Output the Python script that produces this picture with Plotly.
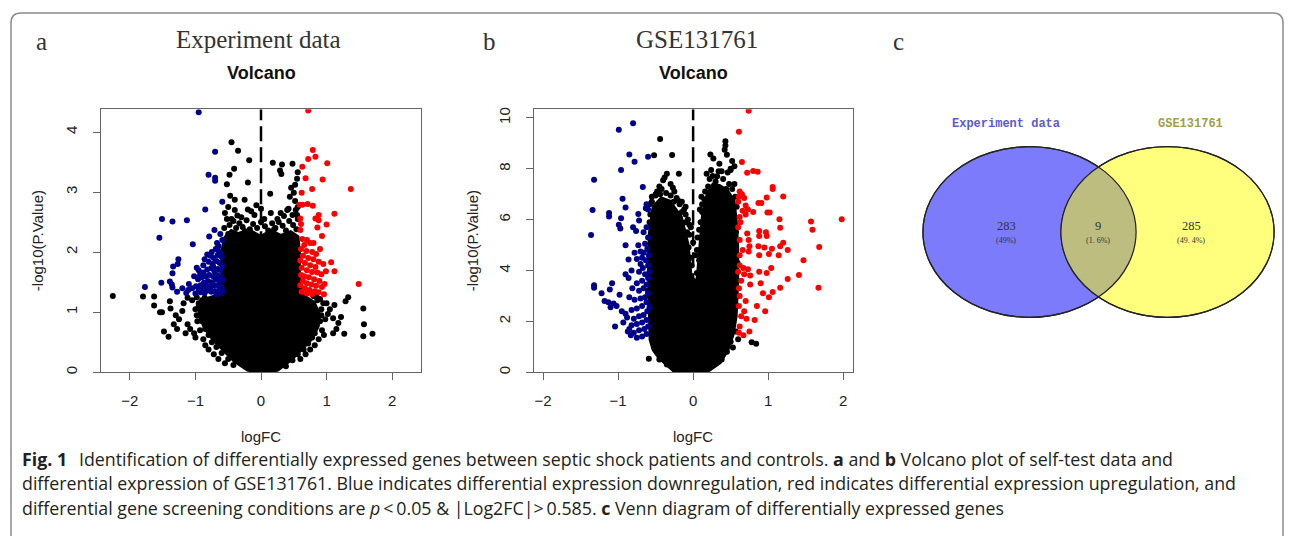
import numpy as np
import plotly.graph_objects as go

W, H = 1293, 536

# ---------------- data: panel a (Experiment data) ----------------
blob_a_x = [0.05, 0.25, 0.45, 0.62, 0.75, 0.85, 0.88, 0.80, 0.62, 0.57, 0.57, 0.55, 0.45, 0.30, 0.15, 0.0,
            -0.15, -0.30, -0.45, -0.55, -0.58, -0.58, -0.62, -0.80, -0.92, -0.93, -0.85, -0.72, -0.55, -0.40, -0.20, 0.05]
blob_a_y = [0.0, 0.05, 0.22, 0.40, 0.55, 0.75, 0.95, 1.15, 1.28, 1.6, 2.0, 2.25, 2.32, 2.26, 2.34, 2.24,
            2.33, 2.27, 2.34, 2.22, 2.0, 1.6, 1.28, 1.22, 1.12, 0.95, 0.75, 0.55, 0.35, 0.2, 0.05, 0.0]

black_a_x = [-2.26, -1.80, -1.63, -1.63, -1.54, -1.51, -1.39, -1.38, -1.48, -1.41, -1.0, -1.30, -1.25, -1.20, -1.12, -1.08,
             -1.18, -1.05, -1.12, -0.98, -0.95, -0.92, -0.97, -1.02, -0.93, -0.88, -0.85, -0.80, -0.72, -0.65, -0.55,
             -1.33, -1.28, -1.15, -0.90, -0.86,
             -0.45, -0.35, -0.18, -0.41, -0.48, -0.52, -0.20, -0.47, -0.40, -0.25, -0.20, -0.07, -0.36, -0.55, -0.50,
             -0.45, -0.30, -0.10, 0.05, 0.15,
             0.18, 0.32, 0.48, 0.29, 0.31, 0.56, 0.55, 0.52, 0.46, 0.50, 0.44, 0.14, 0.52, 0.56, 0.40, 0.48, 0.56,
             0.35, 0.25,
             1.33, 1.29, 1.56, 1.57, 1.70, 1.56, 1.27, 1.05, 1.02, 1.10, 0.98, 1.00, 1.12, 1.18, 1.22, 0.93, 0.96,
             0.88, 0.82, 0.75, 0.68, 0.60, 1.10, 1.15, 0.90, 0.85, 0.80, 0.92,
             -0.52, -0.48, -0.42, -0.38, -0.33, -0.28, -0.22, -0.17, -0.12, -0.06, 0.0, 0.06, 0.11, 0.17, 0.22,
             0.27, 0.33, 0.38, 0.43, 0.49, 0.54, -0.50, -0.30, 0.10, 0.40, 0.30, 0.42, -0.15, -0.40, 0.0, 0.55,
             0.53, -0.56, -0.25, 0.20,
             -0.95, -1.00, -0.98, -0.90, -0.85, -0.80, -0.75, -0.68, -0.60, -0.50, -0.42,
             0.92, 0.90, 0.85, 0.82, 0.78, 0.72, 0.65, 0.56, 0.48, 0.38, 0.95, 0.86]
black_a_y = [1.27, 1.26, 1.26, 1.11, 1.0, 1.0, 1.18, 1.06, 0.68, 0.59, 0.58, 0.95, 0.88, 1.02, 0.80, 0.72,
             1.15, 1.20, 1.24, 1.25, 1.10, 0.95, 0.85, 0.65, 0.70, 0.55, 0.45, 0.38, 0.30, 0.22, 0.15,
             0.80, 0.72, 0.65, 1.20, 1.24,
             3.83, 3.69, 3.53, 3.39, 3.29, 3.13, 3.16, 2.94, 2.87, 2.87, 2.71, 2.78, 2.61, 2.65, 2.75,
             2.55, 2.58, 2.62, 2.55, 2.65,
             3.49, 3.46, 3.47, 3.36, 3.30, 3.33, 3.22, 3.12, 3.07, 2.99, 2.92, 2.97, 2.85, 2.75, 2.70, 2.62, 2.55,
             2.60, 2.55,
             1.25, 1.18, 1.06, 0.80, 0.64, 0.60, 0.64, 1.05, 0.97, 0.90, 0.88, 1.15, 1.12, 0.82, 0.92, 0.70, 0.62,
             0.55, 0.45, 0.38, 0.30, 0.22, 0.65, 0.72, 1.22, 1.25, 1.27, 1.05,
             2.55, 2.45, 2.52, 2.40, 2.48, 2.42, 2.53, 2.38, 2.47, 2.40, 2.50, 2.43, 2.36, 2.48, 2.40,
             2.50, 2.44, 2.36, 2.52, 2.45, 2.38, 2.30, 2.30, 2.28, 2.28, 2.65, 2.72, 2.68, 2.70, 2.72, 2.62,
             2.70, 2.40, 2.35, 2.38,
             1.15, 1.05, 0.95, 0.85, 0.72, 0.62, 0.50, 0.42, 0.32, 0.22, 0.12,
             0.95, 0.85, 0.78, 0.65, 0.58, 0.48, 0.38, 0.30, 0.20, 0.10, 1.15, 1.20]

blue_a_x = [-0.95, -0.70, -0.80, -0.70, -0.70, -0.59, -0.85, -1.51, -1.35, -1.13, -1.55, -0.71, -0.79, -1.04,
            -0.67, -0.65, -1.26, -1.27, -1.34, -1.35, -1.52, -1.77, -1.39, -1.36, -1.35, -1.10, -1.11, -0.98,
            -0.62, -0.60, -0.66, -0.72, -0.77, -0.82, -0.86, -0.80, -0.74, -0.68, -0.63, -0.59, -0.61, -0.66,
            -0.71, -0.76, -0.82, -0.88, -0.93, -0.96, -0.90, -0.85, -0.79, -0.73, -0.67, -0.62, -0.58, -0.63,
            -0.69, -0.75, -0.81, -0.87, -0.92, -0.99, -1.05, -0.95, -0.89, -0.83, -0.77, -0.71, -0.65, -0.60,
            -0.58, -0.64, -0.70, -0.76, -0.82, -0.86, -0.62, -0.68, -0.92, -1.00, -0.73, -0.64, -0.69, -0.59,
            -0.62, -0.75, -0.88, -0.95, -1.02, -1.20, -1.28, -1.14]
blue_a_y = [4.33, 3.67, 3.29, 3.24, 3.19, 2.84, 2.71, 2.55, 2.51, 2.53, 2.24, 2.37, 2.26, 2.13,
            2.15, 2.10, 1.88, 1.80, 1.76, 1.65, 1.49, 1.42, 1.51, 1.46, 1.41, 1.47, 1.37, 1.74,
            1.98, 1.92, 1.95, 1.90, 1.94, 1.96, 1.88, 1.84, 1.80, 1.85, 1.82, 1.78, 1.70, 1.72,
            1.68, 1.73, 1.71, 1.66, 1.62, 1.55, 1.58, 1.60, 1.62, 1.60, 1.62, 1.60, 1.55, 1.52,
            1.54, 1.50, 1.52, 1.49, 1.45, 1.43, 1.40, 1.38, 1.40, 1.43, 1.42, 1.44, 1.45, 1.42,
            1.35, 1.36, 1.35, 1.34, 1.36, 1.32, 1.31, 1.30, 1.33, 1.31, 1.76, 2.02, 2.05, 2.20,
            2.30, 2.00, 1.78, 1.70, 1.60, 1.40, 1.34, 1.32]

red_a_x = [0.72, 0.79, 0.72, 0.83, 1.01, 0.63, 0.68, 0.94, 1.37, 0.62, 0.78, 0.59, 0.63, 0.71, 0.79, 1.12,
           0.88, 0.83, 0.88, 1.00, 0.86, 0.93, 0.60, 0.61, 0.60, 1.49,
           0.63, 0.70, 0.66, 0.75, 0.61, 0.69, 0.78, 0.84, 0.64, 0.72, 0.80, 0.88, 0.95, 0.60, 0.67, 0.75,
           0.83, 0.62, 0.70, 0.78, 0.86, 0.92, 0.99, 0.61, 0.66, 0.73, 0.81, 0.89, 0.64, 0.70, 0.77, 0.84,
           0.93, 0.60, 0.67, 0.74, 0.82, 0.88, 0.62, 0.70, 0.78, 0.96, 1.07, 1.12, 0.90, 0.80, 0.97]
red_a_y = [4.36, 3.70, 3.55, 3.59, 3.48, 3.42, 3.23, 3.21, 3.05, 2.99, 3.05, 2.79, 2.79, 2.80, 2.77, 2.64,
           2.62, 2.56, 2.53, 2.46, 2.41, 2.27, 2.56, 2.47, 2.37, 1.47,
           2.22, 2.20, 2.12, 2.15, 2.05, 2.02, 2.00, 1.97, 1.94, 1.90, 1.88, 1.84, 1.80, 1.86, 1.82, 1.78,
           1.75, 1.74, 1.70, 1.67, 1.66, 1.63, 1.68, 1.62, 1.60, 1.58, 1.55, 1.52, 1.52, 1.48, 1.46, 1.44,
           1.42, 1.45, 1.40, 1.37, 1.35, 1.33, 1.34, 1.31, 1.30, 1.30, 1.83, 1.68, 2.05, 2.15, 1.47]

# ---------------- data: panel b (GSE131761) ----------------
blob_b_x = [0.0, 0.18, 0.35, 0.45, 0.52, 0.56, 0.58, 0.58, 0.56, 0.53, 0.45, 0.35, 0.27, 0.20, 0.14, 0.10,
            0.07, 0.02, -0.02, -0.04, -0.08, -0.17, -0.25, -0.32, -0.42, -0.52, -0.57, -0.58, -0.57, -0.56,
            -0.52, -0.45, -0.26, -0.10, 0.0]
blob_b_y = [0.0, 0.05, 0.4, 0.9, 1.5, 2.2, 3.5, 5.0, 6.0, 6.74, 7.1, 7.3, 7.35, 7.0, 6.22, 5.0,
            3.75, 3.0, 3.0, 3.75, 5.0, 6.09, 6.4, 6.7, 6.8, 6.5, 5.45, 4.0, 2.5, 1.29,
            0.9, 0.6, 0.1, 0.02, 0.0]

black_b_x = [-0.44, -0.52, -0.28, -0.35, -0.19, -0.40, -0.45, -0.30, -0.25, -0.50, -0.55, -0.15, -0.10, -0.05,
             -0.08, -0.59,
             0.43, 0.43, 0.23, 0.27, 0.45, 0.52, 0.55, 0.50, 0.46, 0.26, 0.30, 0.38, 0.20, 0.15, 0.12, 0.55,
             0.84, 0.78, 0.53, 0.60, 0.57, 0.08, 0.05, 0.02,
             -0.55, -0.48, -0.42, -0.36, -0.30, -0.22, -0.18, -0.12, -0.07, -0.05, -0.57, -0.58,
             0.12, 0.16, 0.22, 0.32, 0.40, 0.48, 0.52, 0.56, 0.58, 0.08, 0.05, -0.03, 0.50,
             0.50, 0.45, 0.38, 0.28, -0.52, -0.45, -0.35, 0.35, -0.38, -0.27, 0.42,
             0.00, -0.02, 0.03, 0.00, -0.03, 0.06, 0.10, -0.10, -0.58, -0.50, -0.44, -0.26, -0.20, -0.15,
             -0.10, 0.11, 0.09, -0.06, 0.04, 0.18, 0.24, 0.34, 0.44, 0.57, 0.59, 0.59, -0.59, -0.60]
black_b_y = [9.17, 8.53, 8.54, 7.80, 7.80, 7.55, 7.30, 7.40, 7.10, 7.00, 6.70, 6.70, 6.20, 5.80,
             5.50, 0.53,
             9.08, 8.91, 8.56, 8.40, 8.55, 8.30, 8.10, 7.95, 7.85, 7.71, 7.50, 7.90, 7.30, 6.80, 6.30, 7.40,
             1.12, 1.18, 0.97, 1.30, 1.60, 4.40, 3.90, 3.40,
             6.90, 7.10, 7.20, 7.05, 6.95, 6.85, 6.60, 6.40, 6.00, 5.40, 6.20, 5.90,
             6.60, 7.10, 7.60, 7.70, 7.60, 7.40, 7.20, 6.90, 6.50, 5.60, 4.80, 4.50, 8.00,
             1.20, 0.80, 0.50, 0.30, 1.00, 0.50, 0.30, 8.20, 7.65, 7.25, 8.75,
             3.60, 4.20, 4.60, 5.10, 5.70, 5.30, 5.90, 6.50, 6.60, 6.95, 7.00, 6.70, 6.75, 6.30,
             5.90, 6.90, 6.40, 4.90, 3.20, 7.80, 7.95, 7.90, 7.20, 5.50, 4.30, 3.00, 4.80, 3.20]

blue_b_x = [-0.80, -0.99, -0.85, -0.78, -0.60, -0.96, -1.32, -0.67, -0.94, -0.90, -1.34, -1.12, -1.12, -0.62,
            -0.63, -0.60, -0.96, -0.99, -0.97, -0.73, -0.72, -0.80, -0.76, -1.36, -0.90, -0.73, -0.70, -0.68,
            -0.75, -0.86, -0.82, -0.90, -0.86, -1.32, -1.32, -1.08, -1.11, -1.22, -1.18, -1.13, -1.06, -1.02,
            -1.10, -0.98, -1.04, -0.95, -0.90, -0.88, -0.93, -0.85, -0.87,
            -0.62, -0.66, -0.60, -0.64, -0.61, -0.66, -0.63, -0.60, -0.67, -0.72, -0.64, -0.60, -0.68, -0.75,
            -0.62, -0.66, -0.72, -0.60, -0.64, -0.70, -0.78, -0.62, -0.68, -0.75, -0.82, -0.61, -0.66, -0.72,
            -0.79, -0.62, -0.68, -0.75, -0.82, -0.60, -0.65, -0.72, -0.79, -0.62, -0.68, -0.75, -0.83, -0.70,
            -0.78, -0.81, -0.85, -0.58, -0.58, -0.59]
blue_b_y = [9.79, 9.53, 8.56, 8.27, 8.47, 7.95, 7.57, 7.28, 6.82, 6.48, 6.38, 6.26, 6.12, 6.60,
            6.45, 6.40, 6.05, 5.80, 5.65, 6.22, 5.96, 5.70, 5.55, 5.39, 4.99, 4.99, 4.75, 4.50,
            4.45, 4.43, 4.00, 3.85, 3.70, 3.42, 3.32, 3.50, 3.25, 3.10, 2.80, 2.75, 2.70, 2.60,
            2.55, 3.05, 1.80, 2.40, 2.30, 2.15, 1.95, 1.70, 1.60,
            5.70, 5.50, 5.30, 5.05, 4.85, 4.70, 4.40, 4.20, 4.10, 3.95, 3.85, 3.70, 3.60, 3.50,
            3.45, 3.30, 3.20, 3.10, 2.95, 2.90, 2.85, 2.75, 2.60, 2.50, 2.45, 2.40, 2.25, 2.20,
            2.10, 2.05, 1.95, 1.90, 1.85, 1.80, 1.70, 1.65, 1.55, 1.50, 1.40, 1.35, 1.45, 4.25,
            4.70, 3.30, 2.95, 2.55, 3.95, 4.60]

red_b_x = [0.74, 0.61, 0.65, 0.72, 0.80, 0.86, 0.62, 0.65, 0.61, 0.68, 1.06, 1.06, 0.98, 1.20, 0.87, 0.91,
           0.70, 0.73, 0.80, 0.70, 0.62, 0.99, 1.02, 1.15, 1.57, 1.98, 1.16, 1.59, 0.88, 0.97, 0.88, 0.98,
           0.72, 0.74, 0.62, 1.20, 1.68, 0.87, 0.95, 1.05, 1.16, 1.26, 0.75, 0.66, 0.74, 0.62, 1.47, 0.88,
           1.01, 1.14, 0.62, 0.67, 0.73, 0.60, 1.04, 0.98, 0.88, 0.76, 0.68, 1.41, 1.26, 1.67, 1.16, 1.06,
           0.90, 0.93, 1.01, 0.76, 0.62, 0.70, 0.61, 0.68, 0.85, 0.96, 0.62, 0.75, 0.67, 0.61, 0.64, 0.61,
           0.64, 0.71, 0.82, 0.60, 0.63, 0.66, 0.60]
red_b_y = [10.28, 9.45, 8.26, 7.84, 7.91, 7.88, 7.10, 7.00, 6.90, 6.85, 7.28, 7.20, 6.87, 6.91, 6.65, 6.65,
           6.55, 6.40, 6.30, 6.20, 6.10, 6.28, 6.28, 6.01, 5.92, 6.01, 5.68, 5.60, 5.55, 5.50, 5.35, 5.35,
           5.45, 5.20, 5.20, 5.09, 4.92, 4.95, 4.90, 4.85, 4.95, 4.80, 4.95, 4.80, 4.75, 4.60, 4.40, 4.60,
           4.65, 4.60, 4.20, 4.10, 4.05, 3.95, 4.10, 3.90, 3.95, 3.80, 3.85, 3.82, 3.66, 3.32, 3.32, 3.15,
           3.50, 3.10, 2.95, 3.45, 3.00, 2.80, 2.60, 2.40, 2.60, 2.40, 1.80, 1.60, 1.45, 1.55, 3.60, 3.30,
           2.20, 2.10, 2.05, 5.70, 5.90, 6.35, 6.70]

# axis settings (ranges / ticks)
xrange_a, yrange_a = [-2.44, 2.44], [0, 4.38]
xrange_b, yrange_b = [-2.12, 2.13], [0, 10.34]
xticks = [-2, -1, 0, 1, 2]
yticks_a = [0, 1, 2, 3, 4]
yticks_b = [0, 2, 4, 6, 8, 10]

# Venn counts
venn_sets = ["Experiment data", "GSE131761"]
venn_counts = ["283", "9", "285"]
venn_pcts = ["(49%)", "(1. 6%)", "(49. 4%)"]

BLUE = "#00008B"
RED = "#FF0000"


def fx(p):
    return p / W


def fy(p):
    return 1 - p / H


fig = go.Figure()


def add_panel(xa, ya, bx, by, kx, ky, bux, buy, rx, ry, yr):
    fig.add_trace(go.Scatter(x=bx, y=by, xaxis=xa, yaxis=ya, mode="lines", fill="toself",
                             fillcolor="black", line=dict(color="black", width=5),
                             hoverinfo="skip", showlegend=False))
    fig.add_trace(go.Scatter(x=kx, y=ky, xaxis=xa, yaxis=ya, mode="markers",
                             marker=dict(size=6, color="black"), hoverinfo="skip", showlegend=False))
    fig.add_trace(go.Scatter(x=[0, 0], y=yr, xaxis=xa, yaxis=ya, mode="lines",
                             line=dict(color="black", width=2.5, dash="15px,6px"),
                             hoverinfo="skip", showlegend=False))
    fig.add_trace(go.Scatter(x=bux, y=buy, xaxis=xa, yaxis=ya, mode="markers",
                             marker=dict(size=6, color=BLUE), hoverinfo="skip", showlegend=False))
    fig.add_trace(go.Scatter(x=rx, y=ry, xaxis=xa, yaxis=ya, mode="markers",
                             marker=dict(size=6, color=RED), hoverinfo="skip", showlegend=False))


add_panel("x", "y", blob_a_x, blob_a_y, black_a_x, black_a_y, blue_a_x, blue_a_y, red_a_x, red_a_y, yrange_a)
add_panel("x2", "y2", blob_b_x, blob_b_y, black_b_x, black_b_y, blue_b_x, blue_b_y, red_b_x, red_b_y, yrange_b)

tickfont = dict(family="Liberation Sans, Arial, sans-serif", size=15, color="#222")
common = dict(showline=True, mirror=True, linecolor="#666", linewidth=1.2, ticks="outside", ticklen=7,
              tickcolor="#666", tickwidth=1.2, tickfont=tickfont, showgrid=False, zeroline=False,
              fixedrange=True)

y_dom = [fy(373), fy(108)]
fig.update_layout(
    xaxis=dict(domain=[fx(101), fx(421)], range=xrange_a, tickvals=xticks, anchor="y",
               ticklabelstandoff=8, **common),
    yaxis=dict(domain=y_dom, range=yrange_a, tickvals=yticks_a, anchor="x", tickangle=-90,
               ticklabelstandoff=10, **common),
    xaxis2=dict(domain=[fx(534), fx(853)], range=xrange_b, tickvals=xticks, anchor="y2",
                ticklabelstandoff=8, **common),
    yaxis2=dict(domain=y_dom, range=yrange_b, tickvals=yticks_b, anchor="x2", tickangle=-90,
                ticklabelstandoff=10, **common),
)

ann = []


def txt(x, y, s, size, family, color="#222", xanchor="center", angle=0):
    ann.append(dict(x=fx(x), y=fy(y), xref="paper", yref="paper", text=s, showarrow=False,
                    xanchor=xanchor, yanchor="middle", textangle=angle,
                    font=dict(size=size, family=family, color=color)))


SERIF = "Liberation Serif, Times New Roman, serif"
SANS = "Liberation Sans, Arial, sans-serif"
MONO = "Liberation Mono, Courier New, monospace"

# panel letters and titles
txt(41, 40, "a", 25, SERIF, "#333")
txt(490, 40, "b", 25, SERIF, "#333")
txt(898, 40, "c", 25, SERIF, "#333")
txt(258, 38, "Experiment data", 25, SERIF, "#333")
txt(697, 38, "GSE131761", 25, SERIF, "#333")
txt(261, 72, "<b>Volcano</b>", 18, SANS, "#111")
txt(693, 72, "<b>Volcano</b>", 18, SANS, "#111")
# axis titles
txt(37, 241, "-log10(P.Value)", 15, SANS, "#222", angle=-90)
txt(472, 241, "-log10(P.Value)", 15, SANS, "#222", angle=-90)
txt(261, 438, "logFC", 15, SANS, "#222")
txt(693, 438, "logFC", 15, SANS, "#222")

# ---------------- Venn diagram ----------------
cy, ryv, rxv = 231.7, 86.0, 106.6
c1, c2 = 1029.5, 1167.5
shapes = []
shapes.append(dict(type="circle", xref="paper", yref="paper", x0=fx(c1 - rxv), x1=fx(c1 + rxv),
                   y0=fy(cy + ryv), y1=fy(cy - ryv), fillcolor="#7b7bfb", line=dict(color="#222", width=1.2)))
shapes.append(dict(type="circle", xref="paper", yref="paper", x0=fx(c2 - rxv), x1=fx(c2 + rxv),
                   y0=fy(cy + ryv), y1=fy(cy - ryv), fillcolor="#ffff7d", line=dict(color="#222", width=1.2)))
mid = (c1 + c2) / 2
t0 = np.arccos((mid - c1) / rxv)
ta = np.linspace(-t0, t0, 60)
tb = np.linspace(np.pi - t0, np.pi + t0, 60)
pts = [(c1 + rxv * np.cos(t), cy + ryv * np.sin(t)) for t in ta] + \
      [(c2 + rxv * np.cos(t), cy - ryv * np.sin(t)) for t in tb]
path = "M " + " L ".join(f"{fx(a):.5f},{fy(b):.5f}" for a, b in pts) + " Z"
shapes.append(dict(type="path", xref="paper", yref="paper", path=path, fillcolor="#bdbd80",
                   line=dict(width=0)))
for c in (c1, c2):
    shapes.append(dict(type="circle", xref="paper", yref="paper", x0=fx(c - rxv), x1=fx(c + rxv),
                       y0=fy(cy + ryv), y1=fy(cy - ryv), line=dict(color="#222", width=1.2)))

txt(1006, 123, "<b>" + venn_sets[0] + "</b>", 12, MONO, "#5a5ad8")
txt(1190, 123, "<b>" + venn_sets[1] + "</b>", 12, MONO, "#a0a048")
for xc, n, p in zip([1006, 1098, 1191], venn_counts, venn_pcts):
    txt(xc, 226, n, 12.5, SERIF, "#333")
    txt(xc, 240, p, 8, SERIF, "#333")

# ---------------- outer rounded frame ----------------
r = 10
L, T, R, B = 11, 11, 1283, 560
frame = (f"M {fx(L)},{fy(B)} L {fx(L)},{fy(T + r)} Q {fx(L)},{fy(T)} {fx(L + r)},{fy(T)} "
         f"L {fx(R - r)},{fy(T)} Q {fx(R)},{fy(T)} {fx(R)},{fy(T + r)} L {fx(R)},{fy(B)}")
shapes.append(dict(type="path", xref="paper", yref="paper", path=frame, line=dict(color="#8a8a8a", width=1.5)))

# ---------------- caption ----------------
CAP = "Open Sans, Lato, sans-serif"
cap_lines = [
    "<b>Fig. 1</b>\u2002\u2009Identification of differentially expressed genes between septic shock patients and controls. "
    "<b>a</b> and <b>b</b> Volcano plot of self-test data and",
    "differential expression of GSE131761. Blue indicates differential expression downregulation, red indicates "
    "differential expression upregulation, and",
    "differential gene screening conditions are <i>p</i>\u2009&lt;\u20090.05 &amp; |Log2FC|&gt;\u20090.585. "
    "<b>c</b> Venn diagram of differentially expressed genes",
]
for i, line in enumerate(cap_lines):
    txt(20, 460 + 25 * i, line, 17.8, CAP, "#231f20", xanchor="left")

fig.update_layout(width=W, height=H, margin=dict(l=0, r=0, t=0, b=0), paper_bgcolor="white",
                  plot_bgcolor="white", annotations=ann, shapes=shapes, showlegend=False)

fig.write_html("out.html", config={"displayModeBar": False},
               post_script="document.body.style.margin='0px';document.body.style.overflow='hidden';")
